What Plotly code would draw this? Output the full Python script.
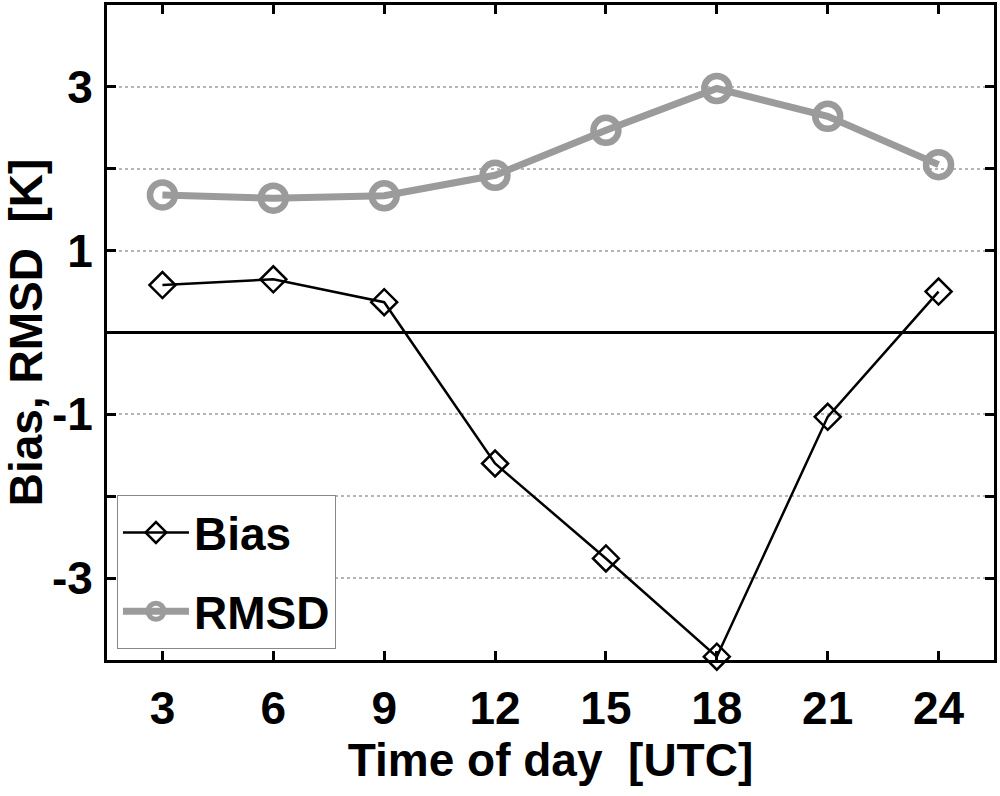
import plotly.graph_objects as go

# %%
hours = [3, 6, 9, 12, 15, 18, 21, 24]
bias = [0.58, 0.65, 0.37, -1.60, -2.76, -3.96, -1.03, 0.50]
rmsd = [1.68, 1.64, 1.67, 1.92, 2.47, 2.98, 2.64, 2.05]

y_ticks = [-4, -3, -2, -1, 0, 1, 2, 3, 4]
y_ticktext = ["", "-3", "", "-1", "", "1", "", "3", ""]

font_family = "Liberation Sans, Arial, sans-serif"
fsize = 46

# %%
fig = go.Figure()

fig.add_trace(
    go.Scatter(
        x = hours,
        y = bias,
        mode = "lines+markers",
        name = "<b>Bias</b>",
        legendgroup = "bias",
        line = dict(color = "black", width = 2.5),
        marker = dict(
            symbol = "diamond-open",
            size = 20,
            color = "black",
            line = dict(width = 2.5, color = "black"),
        ),
        cliponaxis = False,
    )
)

fig.add_trace(
    go.Scatter(
        x = hours,
        y = rmsd,
        mode = "lines+markers",
        name = "<b>RMSD</b>",
        legendgroup = "rmsd",
        line = dict(color = "#9b9b9b", width = 7),
        marker = dict(
            symbol = "circle-open",
            size = 25,
            color = "#9b9b9b",
            line = dict(width = 6.5, color = "#9b9b9b"),
        ),
    )
)

fig.update_layout(
    width = 1000,
    height = 796,
    plot_bgcolor = "white",
    paper_bgcolor = "white",
    font = dict(family = font_family, size = fsize, color = "black"),
    margin = dict(l = 107, r = 6, t = 5, b = 136),
    showlegend = True,
    legend = dict(
        x = 0.011,
        y = 0.017,
        xanchor = "left",
        yanchor = "bottom",
        bgcolor = "white",
        bordercolor = "#888888",
        borderwidth = 1.2,
        font = dict(size = fsize),
        itemwidth = 66,
        tracegroupgap = 16,
    ),
)

fig.update_xaxes(
    range = [1.5, 25.5],
    tickvals = hours,
    ticktext = [f"<b>{h}</b>" for h in hours],
    ticks = "inside",
    ticklen = 9,
    tickwidth = 3,
    tickcolor = "black",
    showline = True,
    linewidth = 3,
    linecolor = "black",
    mirror = "ticks",
    showgrid = False,
    zeroline = False,
    automargin = False,
    ticklabelstandoff = 6,
    tickfont = dict(size = fsize),
    title = dict(text = "<b>Time of day  [UTC]</b>", standoff = 6, font = dict(size = fsize)),
)

fig.update_yaxes(
    range = [-4, 4],
    tickvals = y_ticks,
    ticktext = [f"<b>{t}</b>" if t else "" for t in y_ticktext],
    ticks = "inside",
    ticklen = 9,
    tickwidth = 3,
    tickcolor = "black",
    showline = True,
    linewidth = 3,
    linecolor = "black",
    mirror = "ticks",
    showgrid = True,
    gridcolor = "#b5b5b5",
    gridwidth = 1.5,
    griddash = "dot",
    zeroline = True,
    zerolinecolor = "black",
    zerolinewidth = 2.5,
    automargin = False,
    ticklabelstandoff = 2,
    tickfont = dict(size = fsize),
    title = dict(text = "<b>Bias, RMSD  [K]</b>", standoff = 4, font = dict(size = fsize)),
)

# page body has a default 8px margin, drop it so the figure sits at the corner
fig.write_html(
    "out.html",
    config = {"displayModeBar": False},
    post_script = "document.body.style.margin = '0';",
)
